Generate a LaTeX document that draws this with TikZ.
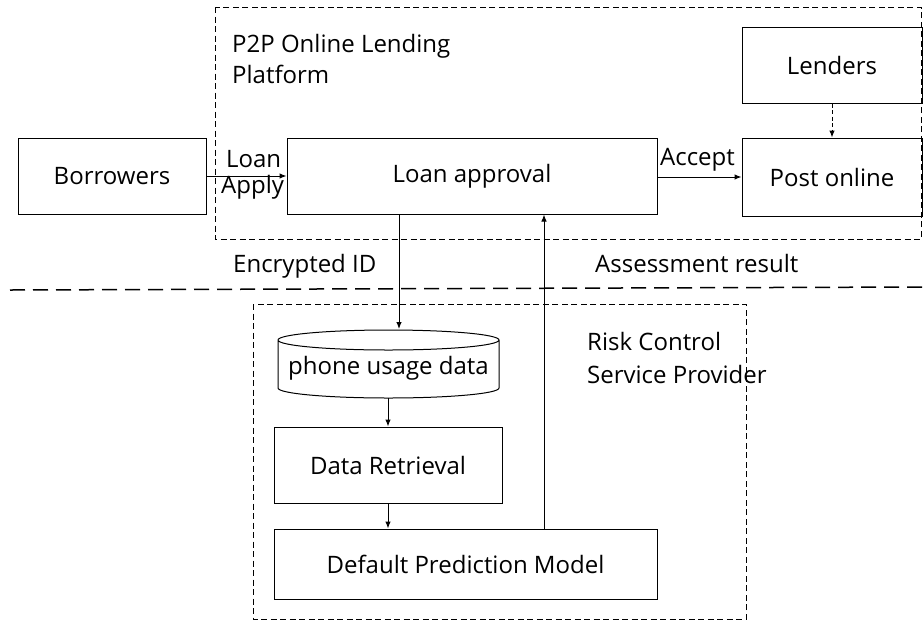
\documentclass[tikz,border=0pt]{standalone}
\usepackage{fontspec}
\setmainfont{Open Sans}
\usetikzlibrary{arrows.meta}
\begin{document}
\begin{tikzpicture}[x=1pt,y=-1pt,
  box/.style={draw,line width=1pt,inner sep=0pt,font=\fontsize{24}{28}\selectfont},
  lbl/.style={anchor=base west,inner sep=0pt,font=\fontsize{24}{28}\selectfont},
  arr/.style={-{Latex[length=7pt,width=5.5pt]},line width=1pt},
  frame/.style={draw,line width=1pt,dash pattern=on 6pt off 3.5pt},
  sep/.style={draw,line width=1.5pt,dash pattern=on 15pt off 8pt}]
\useasboundingbox (0,0) rectangle (923,622);
% frames
\draw[frame] (215,7) rectangle (921,239);
\draw[frame] (253,304) rectangle (746,619);
\coordinate (sepL) at (10,290);
\coordinate (sepR) at (923,287);
\draw[sep] (sepL) -- (sepR);
% nodes
\node[box,minimum width=188,minimum height=76] (bor) at (112,176) {Borrowers};
\node[box,minimum width=370,minimum height=76] (la) at (472,176) {Loan approval};
\node[box,minimum width=180,minimum height=78] (po) at (832,177) {Post online};
\node[box,minimum width=180,minimum height=76] (len) at (832,65) {Lenders};
\node[inner sep=0pt,minimum width=221,minimum height=68,font=\fontsize{24}{28}\selectfont] (cyl) at (388.5,368) {phone usage data};
\draw[line width=1pt]
  (278,340) arc[start angle=180,end angle=-180,x radius=110.5,y radius=10]
  (278,340) -- (278,388) arc[start angle=180,end angle=0,x radius=110.5,y radius=10] -- (499,340);
\node[box,minimum width=228,minimum height=76] (dr) at (388,465) {Data Retrieval};
\node[box,minimum width=383,minimum height=70] (dpm) at (465.5,564) {Default Prediction Model};
% labels
\node[lbl] (tP) at (232,52) {P2P Online Lending};
\node[lbl] (tP2) at (232,83) {Platform};
\node[lbl] (tR) at (587,350) {Risk Control};
\node[lbl] (tR2) at (587,383) {Service Provider};
\node[lbl] (tLoan) at (226,167) {Loan};
\node[lbl] (tApply) at (221,193) {Apply};
\node[lbl] (tAcc) at (660,165) {Accept};
\node[lbl] (tEnc) at (233,272) {Encrypted ID};
\node[lbl] (tAss) at (595,272) {Assessment result};
% connectors
\draw[arr] (bor.east) -- (la.west);
\draw[arr] (la.east |- po.west) -- (po.west);
\draw[arr,dash pattern=on 4pt off 2.5pt] (len.south) -- (po.north);
\draw[arr] (la.south -| 399,0) -- (399,329);
\draw[arr] (388,398) -- (dr.north);
\draw[arr] (dr.south) -- (dpm.north -| dr.south);
\draw[arr] (dpm.north -| 544,0) -- (la.south -| 544,0);
\end{tikzpicture}
\end{document}
